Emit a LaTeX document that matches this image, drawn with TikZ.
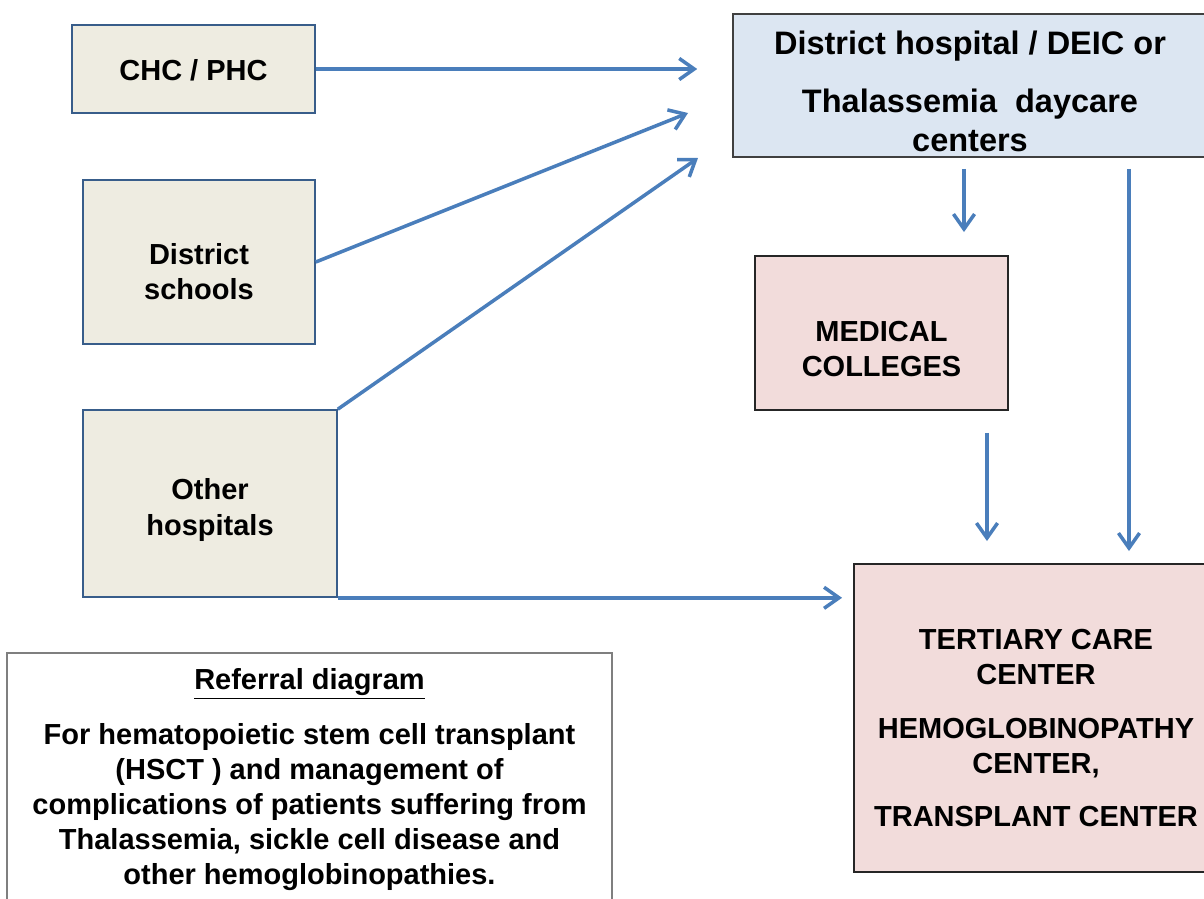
\documentclass[tikz,border=0pt]{standalone}
\usepackage{fontspec}
\setmainfont{Liberation Sans}
\usetikzlibrary{arrows.meta,positioning}

\definecolor{flowblue}{HTML}{4A7EBB}
\definecolor{beige}{HTML}{EEECE1}
\definecolor{beigeedge}{HTML}{385D8A}
\definecolor{paleblue}{HTML}{DCE6F2}
\definecolor{palepink}{HTML}{F2DCDB}
\definecolor{refedge}{HTML}{7F7F7F}

\def\px{0.02cm}

\tikzset{
	srcbox/.style={draw=beigeedge,fill=beige,line width=0.9pt,inner sep=0pt},
	dhbox/.style={draw=black!75,fill=paleblue,line width=0.9pt,inner sep=0pt},
	pinkbox/.style={draw=black!85,fill=palepink,line width=1.1pt,inner sep=0pt},
	lbl/.style={align=center,inner sep=0pt,font=\bfseries\fontsize{16.5}{20}\selectfont},
	biglbl/.style={lbl,font=\bfseries\fontsize{18.5}{22}\selectfont},
	flow/.style={draw=flowblue,line width=2pt,-{Straight Barb[length=8.5pt,width=12pt]}}
}

\begin{document}
\begin{tikzpicture}[x=\px,y=-\px]
	\useasboundingbox (0,0) rectangle (1204,899);

	%SOURCES
	\node[srcbox,minimum width=243*\px,minimum height=88*\px] (chc) at (193.5,69) {};
	\node[lbl] (chcText) at (193.5,70) {CHC / PHC};
	\node[srcbox,minimum width=232*\px,minimum height=164*\px] (sch) at (199,262) {};
	\node[lbl] (schText) at (199,272) {District\\schools};
	\node[srcbox,minimum width=254*\px,minimum height=187*\px] (oth) at (210,503.5) {};
	\node[lbl] (othText) at (210,510) {Other\\hospitals};

	%DISTRICT LEVEL
	\node[dhbox,minimum width=474*\px,minimum height=143*\px] (dh) at (970,85.5) {};
	\node[biglbl] (dhText) at (970,91.5) {
		District hospital / DEIC or\\[11pt]
		Thalassemia\ \ daycare\\
		centers
	};
	\node[pinkbox,minimum width=253*\px,minimum height=154*\px] (mc) at (881.5,333) {};
	\node[lbl] (mcText) at (881.5,349) {MEDICAL\\COLLEGES};

	%TERTIARY
	\node[pinkbox,minimum width=364*\px,minimum height=308*\px] (tc) at (1036,718) {};
	\node[lbl] (tcText) at (1036,728) {
		TERTIARY CARE\\
		CENTER\\[10.5pt]
		HEMOGLOBINOPATHY\\
		CENTER,\\[10pt]
		TRANSPLANT CENTER
	};

	%LEGEND
	\node[draw=refedge,fill=white,line width=0.8pt,minimum width=605*\px,minimum height=270*\px] (ref) at (309.5,788) {};
	\node[lbl] (refText) at (309.5,780) {
		\underline{Referral diagram}\\[11pt]
		For hematopoietic stem cell transplant\\
		(HSCT ) and management of\\
		complications of patients suffering from\\
		Thalassemia, sickle cell disease and\\
		other hemoglobinopathies.
	};

	%ARROWS
	\coordinate (schTip) at (688,113);
	\coordinate (othTip) at (698,158);
	\coordinate (downA) at (964,0);
	\coordinate (downB) at (987,0);
	\coordinate (downC) at (1129,0);

	\draw[flow,shorten >=35*\px] (chc.east) -- (dh.west |- chc.east);
	\draw[flow] (sch.east) -- (schTip);
	\draw[flow] (oth.north east) -- (othTip);
	\draw[flow,shorten >=11*\px] (oth.south east) -- (tc.west |- oth.south east);
	\draw[flow,shorten <=11*\px,shorten >=23*\px] (dh.south -| downA) -- (mc.north -| downA); %dh--mc
	\draw[flow,shorten <=22*\px,shorten >=22*\px] (mc.south -| downB) -- (tc.north -| downB); %mc--tc
	\draw[flow,shorten <=11*\px,shorten >=12*\px] (dh.south -| downC) -- (tc.north -| downC); %dh--tc
\end{tikzpicture}
\end{document}
